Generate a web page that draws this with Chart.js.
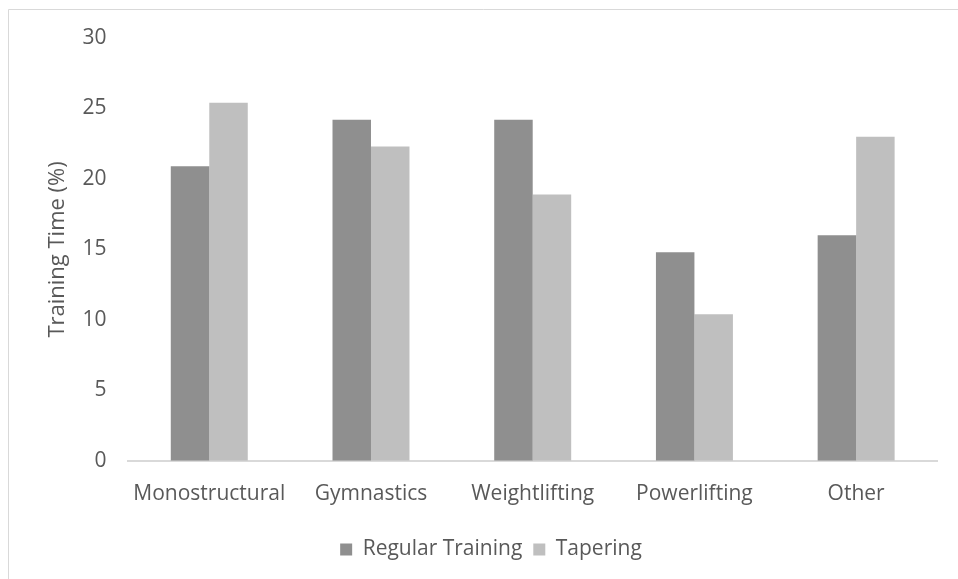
<!DOCTYPE html>
<html>
<head>
<meta charset="utf-8">
<script src="https://cdn.jsdelivr.net/npm/chart.js@4"></script>
<style>
  html, body { margin: 0; padding: 0; background: #fff; }
  #wrap { position: relative; width: 958px; height: 579px; }
</style>
</head>
<body>
<div id="wrap"><canvas id="trainingChart" width="958" height="579"></canvas></div>
<script>
const categories = ['Monostructural', 'Gymnastics', 'Weightlifting', 'Powerlifting', 'Other'];
const regularTraining = [20.9, 24.2, 24.2, 14.8, 16.0];
const tapering = [25.4, 22.3, 18.9, 10.4, 23.0];

const textColor = '#595959';
const fontFamily = "'Open Sans', 'Liberation Sans', sans-serif";

// light frame around the chart (cut off at right/bottom like the original)
const framePlugin = {
    id: 'frame',
    beforeDraw(chart) {
        const c = chart.ctx;
        c.save();
        c.fillStyle = '#fff';
        c.fillRect(0, 0, chart.width, chart.height);
        c.strokeStyle = '#d9d9d9';
        c.lineWidth = 1;
        c.beginPath();
        c.moveTo(8.5, chart.height + 2);
        c.lineTo(8.5, 9.5);
        c.lineTo(chart.width + 2, 9.5);
        c.stroke();
        c.restore();
    }
};

new Chart(document.getElementById('trainingChart').getContext('2d'), {
    type: 'bar',
    data: {
        labels: categories,
        datasets: [{
            label: 'Regular Training',
            data: regularTraining,
            backgroundColor: '#8f8f8f'
        }, {
            label: 'Tapering',
            data: tapering,
            backgroundColor: '#bfbfbf'
        }]
    },
    options: {
        responsive: false,
        animation: false,
        categoryPercentage: 0.476,
        barPercentage: 1,
        layout: { padding: { left: 45, right: 21, top: 38, bottom: 9 } },
        plugins: {
            legend: {
                position: 'bottom',
                labels: {
                    boxWidth: 12,
                    boxHeight: 12,
                    color: textColor,
                    font: { family: fontFamily, size: 21 },
                    padding: 11
                }
            },
            tooltip: { enabled: false }
        },
        scales: {
            x: {
                grid: { display: false, drawTicks: false },
                border: { display: true, color: '#d9d9d9', width: 2 },
                ticks: {
                    color: textColor,
                    font: { family: fontFamily, size: 21 },
                    padding: 21,
                    maxRotation: 0,
                    minRotation: 0,
                    autoSkip: false
                }
            },
            y: {
                min: 0,
                max: 30,
                grid: { display: false, drawTicks: false },
                border: { display: false },
                ticks: { stepSize: 5, color: textColor, font: { family: fontFamily, size: 21 }, padding: 22 },
                title: {
                    display: true,
                    text: 'Training Time (%)',
                    color: textColor,
                    font: { family: fontFamily, size: 22 },
                    padding: { top: 0, bottom: -11 }
                }
            }
        }
    },
    plugins: [framePlugin]
});
</script>
</body>
</html>
